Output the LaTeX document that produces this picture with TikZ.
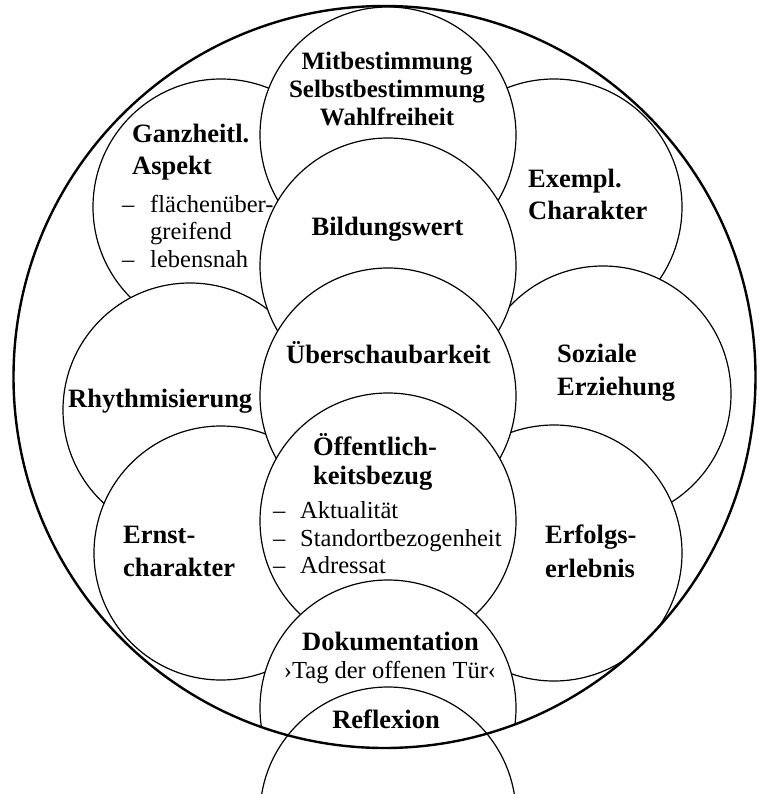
\documentclass[tikz,border=0pt]{standalone}
\usepackage{fontspec}
\setmainfont{Liberation Serif}
\begin{document}
\begin{tikzpicture}[x=1pt,y=-1pt,
  disc/.style={draw=black, line width=1.2pt, fill=white},
  outerring/.style={draw=black, line width=2.4pt},
  bt/.style={font=\fontsize{26.5}{30}\selectfont\bfseries, inner sep=0pt},
  bts/.style={font=\fontsize{25}{28}\selectfont\bfseries, inner sep=0pt},
  rt/.style={font=\fontsize{24.5}{28}\selectfont, inner sep=0pt},
]
\useasboundingbox (0,0) rectangle (758,794);
\fill[white] (0,0) rectangle (758,794);
\coordinate (O) at (384.5,377);
\coordinate (cGanz) at (221,207);
\coordinate (cExem) at (554,207);
\coordinate (cMit) at (388,135);
\coordinate (cRhy) at (190,410);
\coordinate (cSoz) at (603,394);
\coordinate (cBil) at (388,266);
\coordinate (cErn) at (221,553);
\coordinate (cErf) at (554,553);
\coordinate (cUeb) at (388,396);
\coordinate (cOef) at (388,521);
\coordinate (cDok) at (388,708);
\coordinate (cRef) at (388,815);
\begin{scope}
  \clip (O) circle[radius=371pt];
  \draw[disc] (cGanz) circle[radius=128pt];
  \draw[disc] (cExem) circle[radius=128pt];
  \draw[disc] (cMit) circle[radius=128pt];
  \draw[disc] (cRhy) circle[radius=127pt];
  \draw[disc] (cSoz) circle[radius=128pt];
  \draw[disc] (cBil) circle[radius=128pt];
  \draw[disc] (cErn) circle[radius=127pt];
  \draw[disc] (cErf) circle[radius=128pt];
  \draw[disc] (cUeb) circle[radius=128pt];
  \draw[disc] (cOef) circle[radius=128pt];
  \draw[disc] (cDok) circle[radius=128pt];
\end{scope}
\draw[disc] (cRef) circle[radius=128pt];
\draw[outerring] (O) circle[radius=371pt];
% texts
\node[bts, anchor=base] (mit1) at (387,70) {Mitbestimmung};
\node[bts, anchor=base] (mit2) at (387,98) {Selbstbestimmung};
\node[bts, anchor=base] (mit3) at (387,126) {Wahlfreiheit};
\node[bt, anchor=base west] (ganz1) at (132,143) {Ganzheitl.};
\node[bt, anchor=base west] (ganz2) at (132,175) {Aspekt};
\node[rt, anchor=base west] (ganzd1) at (122,213) {–};
\node[rt, anchor=base west] (ganz3) at (150,213) {flächenüber-};
\node[rt, anchor=base west] (ganz4) at (150,240) {greifend};
\node[rt, anchor=base west] (ganzd2) at (122,267) {–};
\node[rt, anchor=base west] (ganz5) at (150,267) {lebensnah};
\node[bt, anchor=base west] (ex1) at (528,188) {Exempl.};
\node[bt, anchor=base west] (ex2) at (528,220) {Charakter};
\node[bt, anchor=base] (bil) at (387.5,235) {Bildungswert};
\node[bt, anchor=base] (ueb) at (388.5,363) {Überschaubarkeit};
\node[bt, anchor=base west] (rhy) at (68,407) {Rhythmisierung};
\node[bt, anchor=base west] (soz1) at (557,362) {Soziale};
\node[bt, anchor=base west] (soz2) at (557,395) {Erziehung};
\node[bt, anchor=base west] (oef1) at (313,455) {Öffentlich-};
\node[bt, anchor=base west] (oef2) at (313,484) {keitsbezug};
\node[rt, anchor=base west] (oefd1) at (273,518) {–};
\node[rt, anchor=base west] (oef3) at (300,518) {Aktualität};
\node[rt, anchor=base west] (oefd2) at (273,546) {–};
\node[rt, anchor=base west] (oef4) at (300,546) {Standortbezogenheit};
\node[rt, anchor=base west] (oefd3) at (273,573) {–};
\node[rt, anchor=base west] (oef5) at (300,573) {Adressat};
\node[bt, anchor=base west] (ern1) at (123,543) {Ernst-};
\node[bt, anchor=base west] (ern2) at (123,576) {charakter};
\node[bt, anchor=base west] (erf1) at (545,543) {Erfolgs-};
\node[bt, anchor=base west] (erf2) at (545,577) {erlebnis};
\node[bt, anchor=base] (dok1) at (390.5,650) {Dokumentation};
\node[rt, anchor=base] (dok2) at (390,678) {›Tag der offenen Tür‹};
\node[bt, anchor=base] (ref) at (386,728) {Reflexion};
\end{tikzpicture}
\end{document}
